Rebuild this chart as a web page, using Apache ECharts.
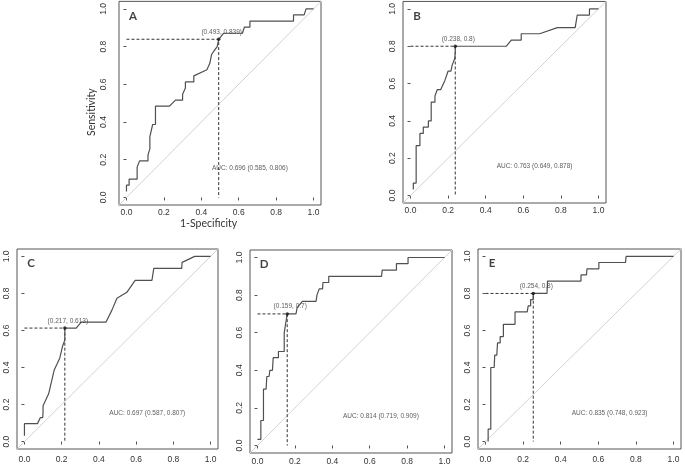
<!DOCTYPE html>
<html><head><meta charset="utf-8">
<script src="https://cdn.jsdelivr.net/npm/echarts@6/dist/echarts.min.js"></script>
<style>html,body{margin:0;padding:0;background:#fff}#c{width:685px;height:466px}</style>
</head><body><div id="c"></div>
<script>
// ---- data ----
const panelNames = ['A', 'B', 'C', 'D', 'E'];
const rocA = [[0,0.032],[0,0.065],[0.014,0.065],[0.014,0.097],[0.057,0.097],[0.057,0.161],[0.07,0.194],[0.115,0.194],[0.115,0.226],[0.125,0.258],[0.125,0.323],[0.135,0.323],[0.14,0.387],[0.155,0.387],[0.155,0.484],[0.23,0.484],[0.262,0.516],[0.3,0.516],[0.3,0.548],[0.315,0.581],[0.315,0.613],[0.36,0.613],[0.36,0.645],[0.43,0.677],[0.445,0.71],[0.455,0.758],[0.47,0.78],[0.485,0.8],[0.493,0.806],[0.493,0.839],[0.52,0.871],[0.62,0.871],[0.63,0.903],[0.66,0.903],[0.66,0.935],[0.893,0.935],[0.893,0.968],[0.95,0.968],[0.96,1],[1,1]];
const rocB = [[0.015,0.033],[0.015,0.067],[0.03,0.067],[0.03,0.267],[0.05,0.267],[0.05,0.333],[0.068,0.333],[0.068,0.367],[0.095,0.367],[0.095,0.4],[0.11,0.4],[0.11,0.5],[0.13,0.5],[0.13,0.533],[0.142,0.567],[0.16,0.567],[0.183,0.617],[0.2,0.667],[0.215,0.667],[0.222,0.7],[0.235,0.733],[0.238,0.767],[0.238,0.8],[0.51,0.8],[0.536,0.833],[0.589,0.833],[0.589,0.867],[0.687,0.867],[0.781,0.9],[0.876,0.9],[0.887,0.967],[0.952,0.967],[0.952,1],[1,1]];
const rocC = [[0,0.032],[0,0.097],[0.07,0.097],[0.085,0.129],[0.098,0.129],[0.1,0.161],[0.1,0.194],[0.115,0.226],[0.13,0.258],[0.145,0.323],[0.16,0.387],[0.175,0.419],[0.19,0.452],[0.205,0.516],[0.217,0.548],[0.217,0.613],[0.278,0.613],[0.305,0.645],[0.438,0.645],[0.47,0.71],[0.497,0.774],[0.55,0.806],[0.595,0.871],[0.685,0.871],[0.695,0.935],[0.845,0.935],[0.847,0.968],[0.915,1],[1,1]];
const rocD = [[0,0.033],[0.018,0.033],[0.018,0.133],[0.032,0.133],[0.032,0.3],[0.046,0.3],[0.05,0.367],[0.062,0.367],[0.066,0.4],[0.08,0.4],[0.084,0.467],[0.112,0.467],[0.112,0.5],[0.143,0.5],[0.143,0.6],[0.152,0.6],[0.159,0.7],[0.206,0.7],[0.212,0.733],[0.24,0.767],[0.313,0.767],[0.318,0.8],[0.33,0.833],[0.348,0.833],[0.35,0.867],[0.381,0.867],[0.381,0.9],[0.663,0.9],[0.667,0.933],[0.743,0.933],[0.743,0.967],[0.805,0.967],[0.805,1],[1,1]];
const rocE = [[0.014,0],[0.014,0.067],[0.028,0.067],[0.028,0.4],[0.046,0.4],[0.049,0.467],[0.06,0.467],[0.064,0.533],[0.078,0.533],[0.078,0.567],[0.095,0.567],[0.095,0.633],[0.157,0.633],[0.157,0.7],[0.222,0.7],[0.227,0.733],[0.24,0.733],[0.24,0.767],[0.254,0.767],[0.254,0.8],[0.327,0.8],[0.33,0.867],[0.508,0.867],[0.508,0.9],[0.537,0.9],[0.54,0.933],[0.603,0.933],[0.603,0.967],[0.745,0.967],[0.748,1],[1,1]];
const rocCurves = [rocA, rocB, rocC, rocD, rocE];
const cutoffs = [[0.493,0.839],[0.238,0.8],[0.217,0.613],[0.159,0.7],[0.254,0.8]];
const cutoffLabels = ['(0.493, 0.839)','(0.238, 0.8)','(0.217, 0.613)','(0.159, 0.7)','(0.254, 0.8)'];
const aucLabels = ['AUC: 0.696 (0.585, 0.806)','AUC: 0.763 (0.649, 0.878)','AUC: 0.697 (0.587, 0.807)','AUC: 0.814 (0.719, 0.909)','AUC: 0.835 (0.748, 0.923)'];
const tickValues = [0, 0.2, 0.4, 0.6, 0.8, 1.0];
const xTitle = '1-Specificity';
const yTitle = 'Sensitivity';

// ---- layout ----
const boxes = [
  {left:119, top:1, width:202, height:204},
  {left:403, top:1, width:203, height:202},
  {left:17, top:249, width:201, height:200},
  {left:250, top:250, width:202, height:203},
  {left:478, top:249, width:203, height:200}
];
const yLabelMargin = [11, 6, 6, 6, 6];
const xLabelMargin = [3, 3, 6, 4, 6];

const grids = [], xAxes = [], yAxes = [], series = [];
const tickFont = 'Liberation Sans, Arial, sans-serif';
boxes.forEach((b, i) => {
  grids.push({left:b.left, top:b.top, width:b.width, height:b.height, show:true, borderColor:'#555', borderWidth:1, backgroundColor:'transparent', containLabel:false});
  const common = {
    gridIndex:i, type:'value', min:-0.04, max:1.04,
    axisLine:{show:false}, splitLine:{show:false},
    axisTick:{show:true, customValues:tickValues, length:3, lineStyle:{color:'#555', width:1}},
  };
  xAxes.push(Object.assign({}, common, {
    axisLabel:{customValues:tickValues, formatter:v => v.toFixed(1), fontSize:8.5, color:'#333', margin:xLabelMargin[i], fontFamily:tickFont}
  }));
  yAxes.push(Object.assign({}, common, {
    axisLabel:{customValues:tickValues, formatter:v => v.toFixed(1), fontSize:8.5, color:'#333', margin:yLabelMargin[i], rotate:90, fontFamily:tickFont}
  }));
  // diagonal reference line
  series.push({type:'line', xAxisIndex:i, yAxisIndex:i, data:[[-0.2,-0.2],[1.2,1.2]], symbol:'none', clip:true, silent:true,
    lineStyle:{color:'#d2d2d2', width:1}, z:1});
  const c = cutoffs[i];
  // dashed threshold guides
  series.push({type:'line', xAxisIndex:i, yAxisIndex:i, data:[[0,c[1]],[c[0],c[1]],[c[0],0]], symbol:'none', silent:true,
    lineStyle:{color:'#333', width:1, type:[3,2]}, z:2});
  // ROC curve
  series.push({type:'line', xAxisIndex:i, yAxisIndex:i, data:rocCurves[i], symbol:'none', silent:true,
    lineStyle:{color:'#505050', width:1.2}, z:3});
  // threshold point + label
  series.push({type:'scatter', xAxisIndex:i, yAxisIndex:i, data:[c], symbolSize:3.5, itemStyle:{color:'#111'}, silent:true, z:4,
    label:{show:true, formatter:cutoffLabels[i], position:'top', distance:2, offset:[3,0], fontSize:6.5, color:'#333', fontFamily:tickFont}});
  // AUC text and panel letter
  series.push({type:'scatter', xAxisIndex:i, yAxisIndex:i, symbolSize:0, silent:true, z:5,
    data:[
      {value:[0.66,0.155], label:{show:true, formatter:aucLabels[i], position:'inside', fontSize:6.5, color:'#333', fontFamily:tickFont}},
      {value:[0.035,0.962], label:{show:true, formatter:panelNames[i], position:'inside', fontSize:11.5, fontWeight:'bold', color:'#111', fontFamily:'Lato, sans-serif'}}
    ]});
});

const chart = echarts.init(document.getElementById('c'), null, {renderer:'canvas'});
chart.setOption({
  backgroundColor:'#fff',
  animation:false,
  grid:grids, xAxis:xAxes, yAxis:yAxes, series:series,
  graphic:[
    {type:'text', left:180, top:218, style:{text:xTitle, fontSize:10.5, fill:'#333', fontFamily:'Lato, sans-serif'}},
    {type:'text', rotation:Math.PI/2, x:86, y:136, style:{text:yTitle, fontSize:10.5, fill:'#333', fontFamily:'Lato, sans-serif'}}
  ]
});
</script>
</body></html>
